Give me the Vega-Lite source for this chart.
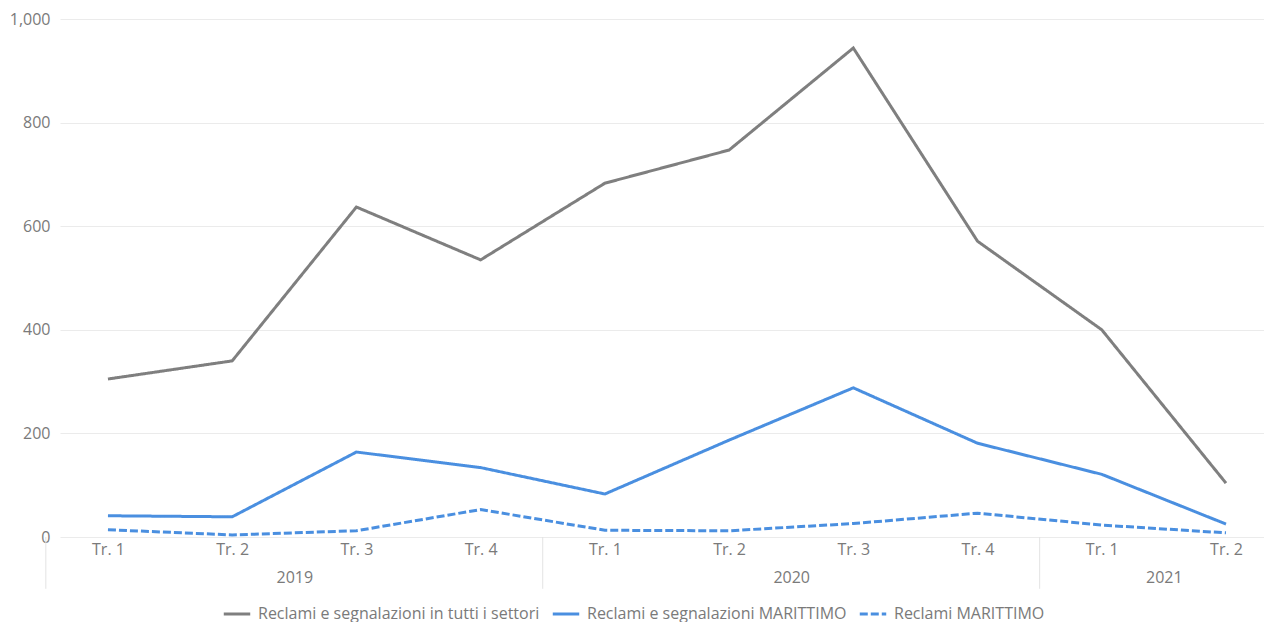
{
  "$schema": "https://vega.github.io/schema/vega-lite/v6.json",
  "width": 1204,
  "height": 518,
  "autosize": "none",
  "padding": {"left": 60, "top": 19, "right": 0, "bottom": 85},
  "background": "white",
  "config": {
    "font": "Open Sans",
    "view": {"stroke": null},
    "axis": {"labelFont": "Open Sans", "labelFontSize": 16, "labelColor": "#7a7a7a", "title": null},
    "legend": {
      "title": null,
      "orient": "none",
      "legendX": 162,
      "legendY": 580,
      "direction": "horizontal",
      "padding": 0,
      "symbolType": "stroke",
      "symbolStrokeWidth": 3,
      "symbolSize": 700,
      "labelFont": "Open Sans",
      "labelFontSize": 16,
      "labelColor": "#7a7a7a",
      "labelOffset": 6,
      "labelLimit": 0,
      "columnPadding": 6
    }
  },
  "layer": [
    {
      "data": {
        "values": [
          {"anno": "2019", "trimestre": "Tr. 1", "idx": 0, "serie": "Reclami e segnalazioni in tutti i settori", "valore": 305},
          {"anno": "2019", "trimestre": "Tr. 2", "idx": 1, "serie": "Reclami e segnalazioni in tutti i settori", "valore": 340},
          {"anno": "2019", "trimestre": "Tr. 3", "idx": 2, "serie": "Reclami e segnalazioni in tutti i settori", "valore": 637},
          {"anno": "2019", "trimestre": "Tr. 4", "idx": 3, "serie": "Reclami e segnalazioni in tutti i settori", "valore": 535},
          {"anno": "2020", "trimestre": "Tr. 1", "idx": 4, "serie": "Reclami e segnalazioni in tutti i settori", "valore": 683},
          {"anno": "2020", "trimestre": "Tr. 2", "idx": 5, "serie": "Reclami e segnalazioni in tutti i settori", "valore": 747},
          {"anno": "2020", "trimestre": "Tr. 3", "idx": 6, "serie": "Reclami e segnalazioni in tutti i settori", "valore": 944},
          {"anno": "2020", "trimestre": "Tr. 4", "idx": 7, "serie": "Reclami e segnalazioni in tutti i settori", "valore": 571},
          {"anno": "2021", "trimestre": "Tr. 1", "idx": 8, "serie": "Reclami e segnalazioni in tutti i settori", "valore": 400},
          {"anno": "2021", "trimestre": "Tr. 2", "idx": 9, "serie": "Reclami e segnalazioni in tutti i settori", "valore": 104},
          {"anno": "2019", "trimestre": "Tr. 1", "idx": 0, "serie": "Reclami e segnalazioni MARITTIMO", "valore": 41},
          {"anno": "2019", "trimestre": "Tr. 2", "idx": 1, "serie": "Reclami e segnalazioni MARITTIMO", "valore": 39},
          {"anno": "2019", "trimestre": "Tr. 3", "idx": 2, "serie": "Reclami e segnalazioni MARITTIMO", "valore": 164},
          {"anno": "2019", "trimestre": "Tr. 4", "idx": 3, "serie": "Reclami e segnalazioni MARITTIMO", "valore": 134},
          {"anno": "2020", "trimestre": "Tr. 1", "idx": 4, "serie": "Reclami e segnalazioni MARITTIMO", "valore": 83},
          {"anno": "2020", "trimestre": "Tr. 2", "idx": 5, "serie": "Reclami e segnalazioni MARITTIMO", "valore": 187},
          {"anno": "2020", "trimestre": "Tr. 3", "idx": 6, "serie": "Reclami e segnalazioni MARITTIMO", "valore": 288},
          {"anno": "2020", "trimestre": "Tr. 4", "idx": 7, "serie": "Reclami e segnalazioni MARITTIMO", "valore": 181},
          {"anno": "2021", "trimestre": "Tr. 1", "idx": 8, "serie": "Reclami e segnalazioni MARITTIMO", "valore": 121},
          {"anno": "2021", "trimestre": "Tr. 2", "idx": 9, "serie": "Reclami e segnalazioni MARITTIMO", "valore": 25},
          {"anno": "2019", "trimestre": "Tr. 1", "idx": 0, "serie": "Reclami MARITTIMO", "valore": 14},
          {"anno": "2019", "trimestre": "Tr. 2", "idx": 1, "serie": "Reclami MARITTIMO", "valore": 4},
          {"anno": "2019", "trimestre": "Tr. 3", "idx": 2, "serie": "Reclami MARITTIMO", "valore": 12},
          {"anno": "2019", "trimestre": "Tr. 4", "idx": 3, "serie": "Reclami MARITTIMO", "valore": 53},
          {"anno": "2020", "trimestre": "Tr. 1", "idx": 4, "serie": "Reclami MARITTIMO", "valore": 13},
          {"anno": "2020", "trimestre": "Tr. 2", "idx": 5, "serie": "Reclami MARITTIMO", "valore": 12},
          {"anno": "2020", "trimestre": "Tr. 3", "idx": 6, "serie": "Reclami MARITTIMO", "valore": 26},
          {"anno": "2020", "trimestre": "Tr. 4", "idx": 7, "serie": "Reclami MARITTIMO", "valore": 46},
          {"anno": "2021", "trimestre": "Tr. 1", "idx": 8, "serie": "Reclami MARITTIMO", "valore": 23},
          {"anno": "2021", "trimestre": "Tr. 2", "idx": 9, "serie": "Reclami MARITTIMO", "valore": 8}
        ]
      },
      "mark": {"type": "line", "strokeWidth": 3, "clip": false},
      "encoding": {
        "x": {
          "field": "idx",
          "type": "quantitative",
          "scale": {"domain": [-0.386, 9.306], "nice": false, "zero": false},
          "axis": {
            "orient": "bottom",
            "values": [0, 1, 2, 3, 4, 5, 6, 7, 8, 9],
            "labelExpr": "'Tr. ' + (datum.value % 4 + 1)",
            "domain": false,
            "ticks": false,
            "tickSize": 0,
            "grid": false,
            "labelPadding": 4,
            "labelFlush": false
          }
        },
        "y": {
          "field": "valore",
          "type": "quantitative",
          "scale": {"domain": [0, 1000], "nice": false},
          "axis": {
            "values": [0, 200, 400, 600, 800, 1000],
            "format": ",.0f",
            "domain": false,
            "ticks": false,
            "tickSize": 0,
            "labelPadding": 10,
            "grid": true,
            "gridColor": "#ebebeb",
            "gridWidth": 1
          }
        },
        "color": {
          "field": "serie",
          "type": "nominal",
          "scale": {
            "domain": ["Reclami e segnalazioni in tutti i settori", "Reclami e segnalazioni MARITTIMO", "Reclami MARITTIMO"],
            "range": ["#7f7f7f", "#4a8fe0", "#4a8fe0"]
          }
        },
        "strokeDash": {
          "field": "serie",
          "type": "nominal",
          "scale": {
            "domain": ["Reclami e segnalazioni in tutti i settori", "Reclami e segnalazioni MARITTIMO", "Reclami MARITTIMO"],
            "range": [[1, 0], [1, 0], [8, 3]]
          }
        }
      }
    },
    {
      "data": {
        "values": [
          {"confine": -0.5},
          {"confine": 3.5},
          {"confine": 7.5}
        ]
      },
      "mark": {"type": "rule", "color": "#e3e3e3", "strokeWidth": 1, "clip": false},
      "encoding": {
        "x": {
          "field": "confine",
          "type": "quantitative",
          "axis": {
            "orient": "bottom",
            "values": [1.5, 5.5, 8.5],
            "labelExpr": "datum.value < 4 ? '2019' : (datum.value < 8 ? '2020' : '2021')",
            "domain": false,
            "ticks": false,
            "tickSize": 0,
            "grid": false,
            "labelPadding": 32,
            "labelFlush": false
          }
        },
        "y": {"datum": 0},
        "y2": {"datum": -100}
      }
    }
  ],
  "resolve": {"axis": {"x": "independent"}}
}
